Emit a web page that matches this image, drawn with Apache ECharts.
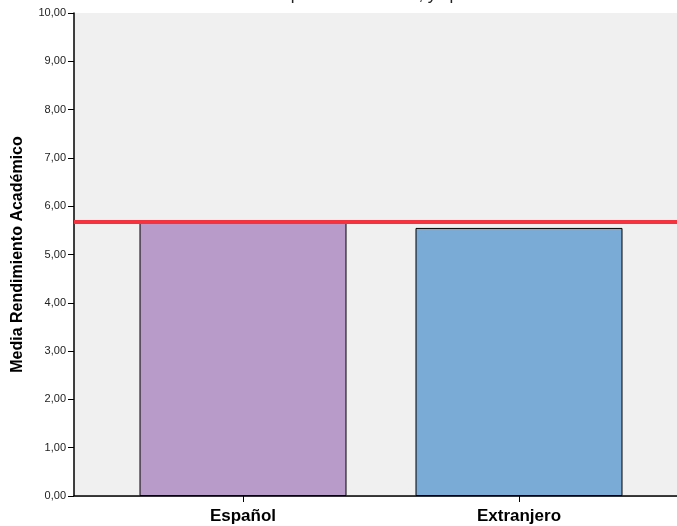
<!DOCTYPE html>
<html>
<head>
<meta charset="utf-8">
<script src="https://cdn.jsdelivr.net/npm/echarts@6/dist/echarts.min.js"></script>
<style>
  html, body { margin: 0; padding: 0; background: #ffffff; }
  #chart { width: 677px; height: 526px; }
</style>
</head>
<body>
<div id="chart"></div>
<script>
// Grupos de nacionalidad y medias de rendimiento académico
var categories = ['Español', 'Extranjero'];
var meanValues = [5.69, 5.55];
var referenceLine = 5.67;
var yTicks = { min: 0, max: 10, interval: 1 };
var barColors = ['#b89bc8', '#7aaad6'];
var chartTitle = 'Gráfico con Media Rendimiento por Nacionalidad, y tipo de centro';

var chart = echarts.init(document.getElementById('chart'), null, { renderer: 'canvas' });

var fmt = function (v) { return v.toFixed(2).replace('.', ','); };

chart.setOption({
  animation: false,
  backgroundColor: '#ffffff',
  title: {
    text: chartTitle,
    left: 48,
    top: -13,
    padding: 0,
    textStyle: { fontFamily: 'Liberation Sans', fontSize: 17, fontWeight: 'normal', color: '#222' }
  },
  grid: [
    // frame: background, y axis, reference line
    { left: 74, right: 0, top: 13, bottom: 30, show: true, backgroundColor: '#f0f0f0', borderWidth: 0 },
    // bars
    { left: 105, right: 20, top: 13, bottom: 30 }
  ],
  xAxis: [
    {
      gridIndex: 0, type: 'value', min: 0, max: 1,
      axisLine: { show: true, onZero: false, lineStyle: { color: '#000', width: 1.5 } },
      axisTick: { show: false }, axisLabel: { show: false }, splitLine: { show: false }
    },
    {
      gridIndex: 0, type: 'value', min: 0, max: 1, position: 'top',
      axisLine: { show: true, lineStyle: { color: '#333', width: 1 } },
      axisTick: { show: false }, axisLabel: { show: false }, splitLine: { show: false }
    },
    {
      gridIndex: 1, type: 'category', data: categories,
      axisLine: { show: false },
      axisTick: { show: true, alignWithLabel: true, length: 6, lineStyle: { color: '#000', width: 1 } },
      axisLabel: { margin: 12, fontFamily: 'Liberation Sans', fontSize: 17, fontWeight: 'bold', color: '#000' }
    }
  ],
  yAxis: [
    {
      gridIndex: 0, type: 'value', min: yTicks.min, max: yTicks.max, interval: yTicks.interval,
      name: 'Media Rendimiento Académico', nameLocation: 'middle', nameGap: 48, nameRotate: 90,
      nameTextStyle: { fontFamily: 'Liberation Sans', fontSize: 16, fontWeight: 'bold', color: '#000' },
      axisLine: { show: true, lineStyle: { color: '#000', width: 1.5 } },
      axisTick: { show: true, length: 6, lineStyle: { color: '#000' } },
      axisLabel: { formatter: fmt, margin: 8, fontFamily: 'Liberation Sans', fontSize: 11, color: '#222' },
      splitLine: { show: false }
    },
    {
      gridIndex: 1, type: 'value', min: yTicks.min, max: yTicks.max, interval: yTicks.interval,
      show: false, splitLine: { show: false }
    }
  ],
  series: [
    {
      type: 'bar', xAxisIndex: 2, yAxisIndex: 1,
      data: meanValues.map(function (v, i) {
        return { value: v, itemStyle: { color: barColors[i] } };
      }),
      barWidth: '75%',
      itemStyle: { borderColor: '#000', borderWidth: 1 },
      z: 2
    },
    {
      type: 'line', xAxisIndex: 0, yAxisIndex: 0, data: [], symbol: 'none',
      markLine: {
        silent: true, symbol: 'none', label: { show: false },
        lineStyle: { color: '#f4333f', width: 4, type: 'solid' },
        data: [{ yAxis: referenceLine }]
      },
      z: 5
    }
  ]
});
</script>
</body>
</html>
